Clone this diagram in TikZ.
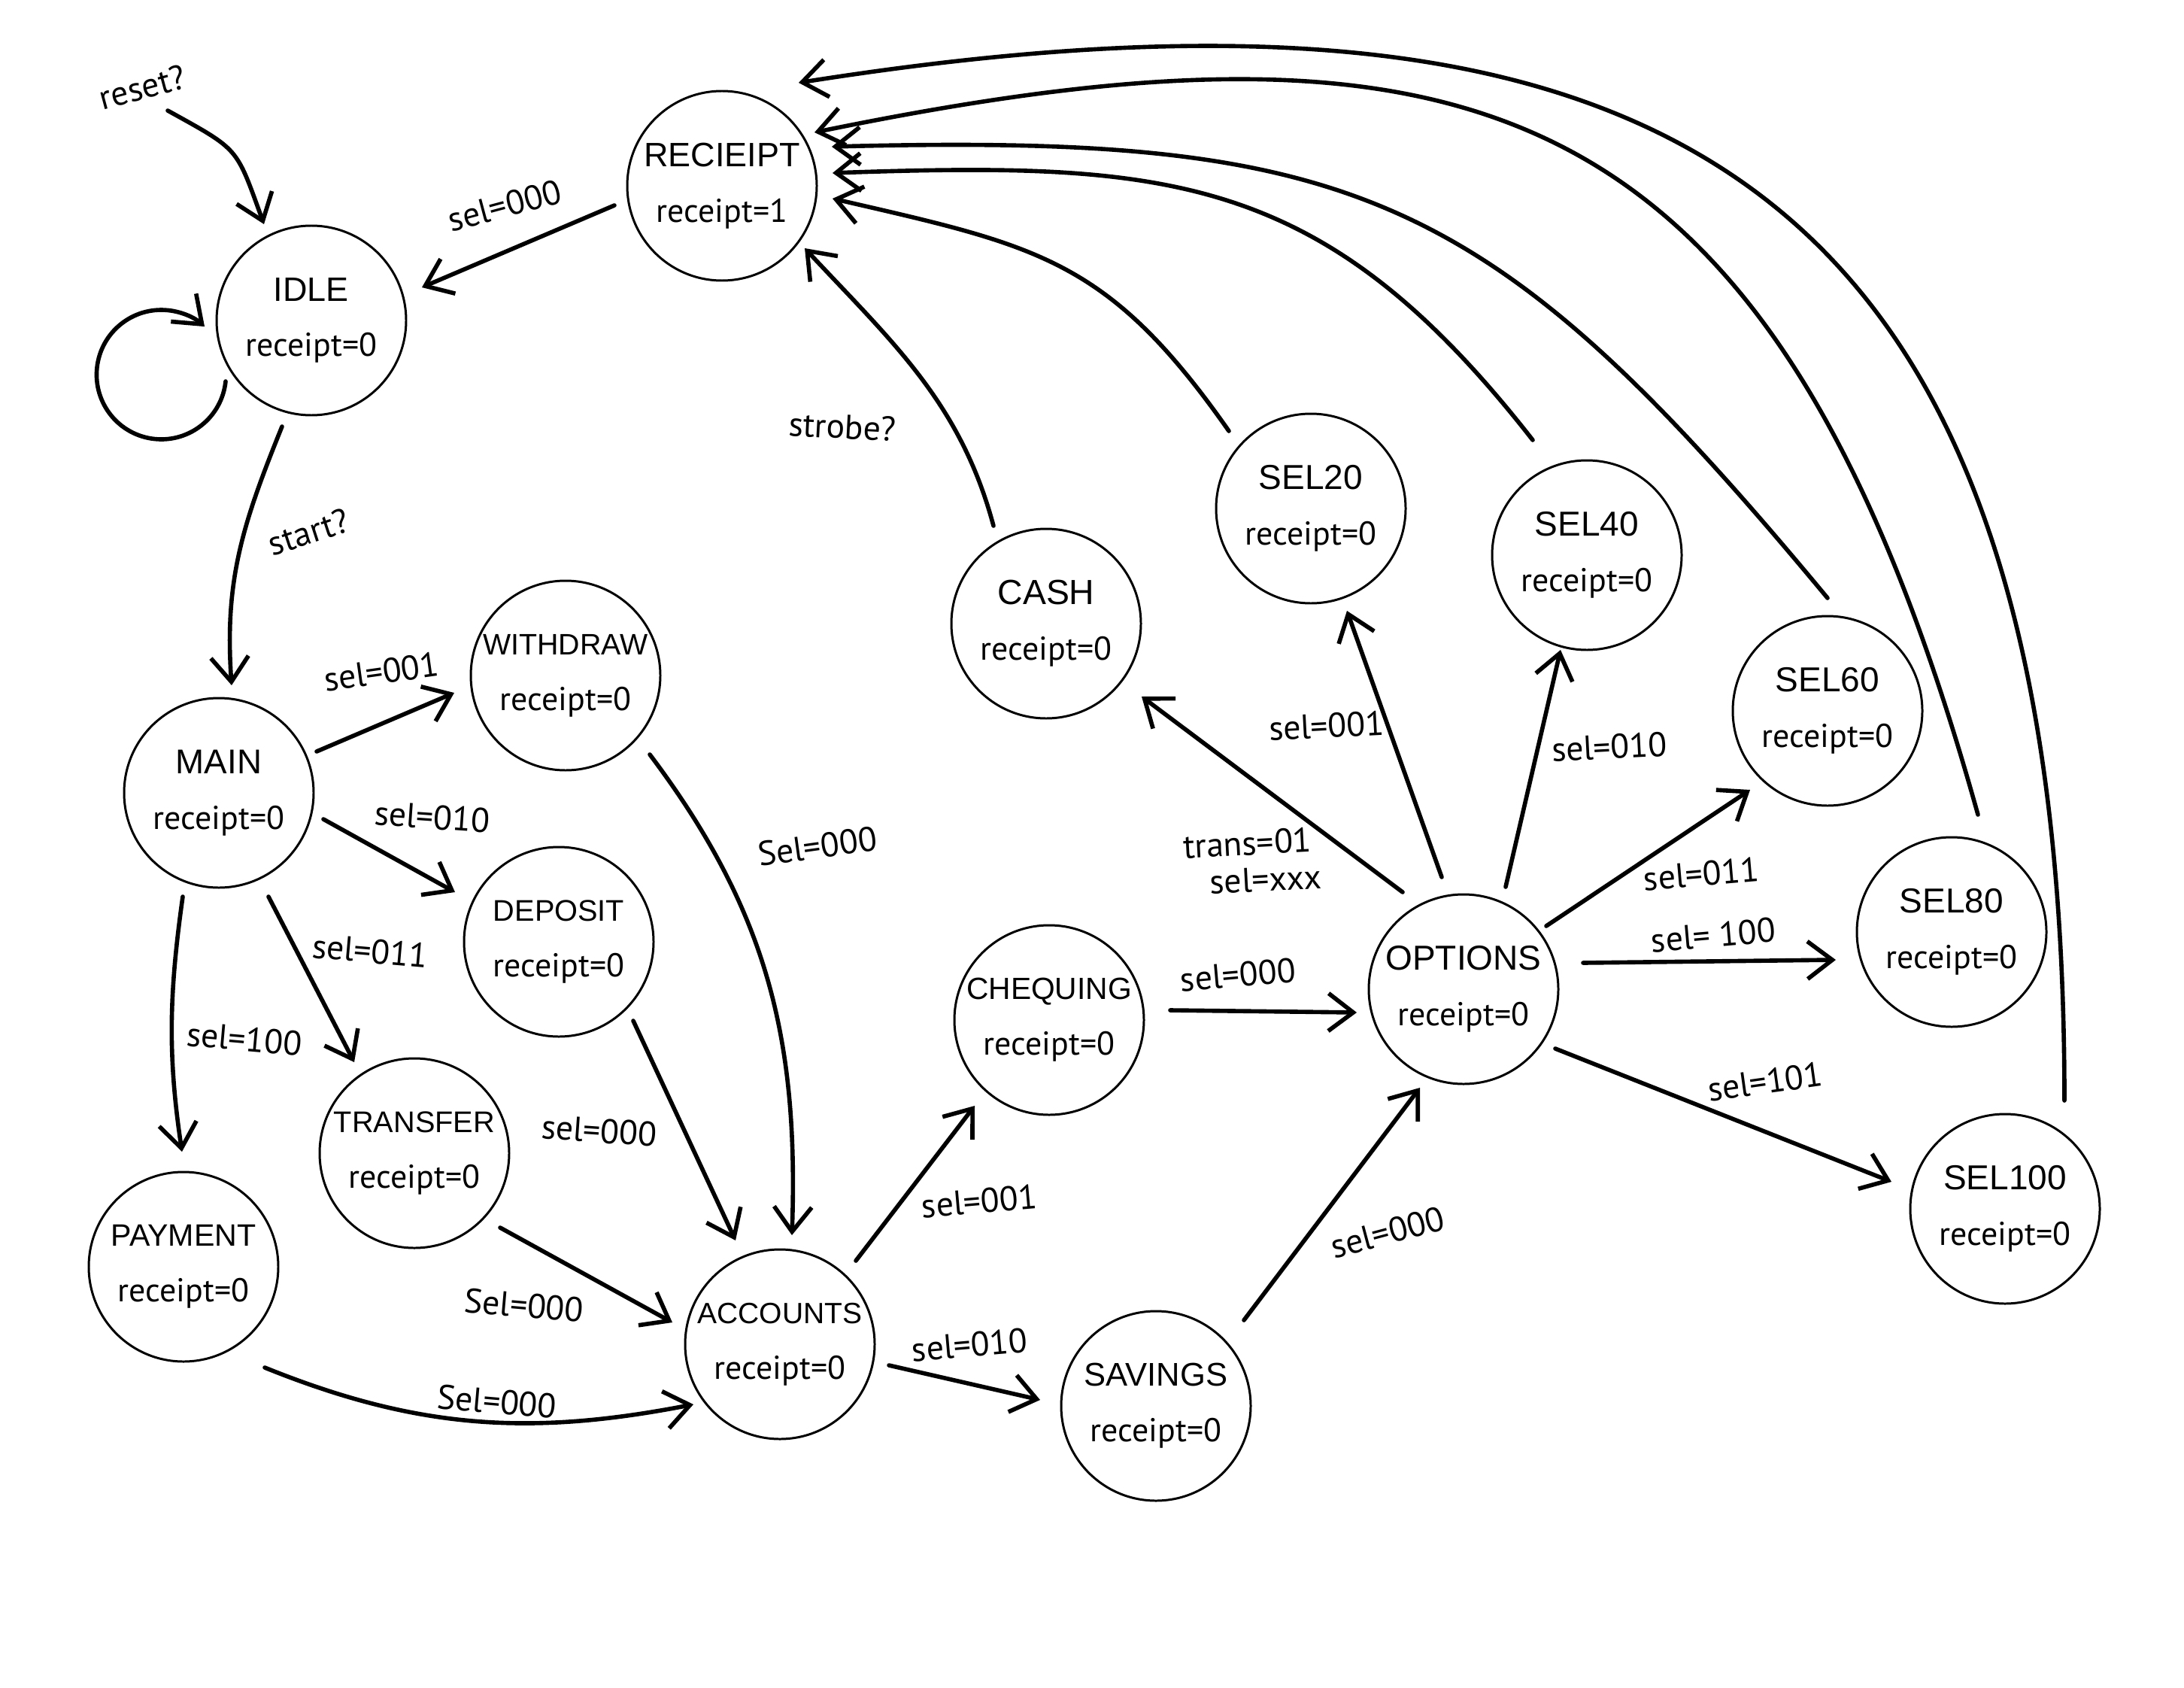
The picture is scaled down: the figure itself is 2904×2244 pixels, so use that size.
\documentclass[tikz,border=0pt]{standalone}
\usepackage{fontspec}
\setmainfont{Liberation Sans}
\newfontfamily\hand{PT Sans}
\usetikzlibrary{arrows.meta,calc}
\newcommand\rcpt[1]{{\hand\fontsize{12.5}{21}\selectfont #1}}
\begin{document}
\begin{tikzpicture}[x=0.1mm,y=0.1mm,
  state/.style={circle,draw,line width=0.85pt,minimum size=25.2mm,inner sep=0pt,align=center,font=\fontsize{#1}{21}\selectfont},
  state/.default=13,
  arr/.style={line width=1.6pt,line cap=round,-{Straight Barb[length=3.3mm,width=5mm]}},
  lab/.style={font=\hand\fontsize{13}{14}\selectfont,inner sep=1pt}
]
\useasboundingbox[fill=white] (0,0) rectangle (2904,-2244);

% states
\node[state=12.8] (rec) at (960,-247) {RECIEIPT\\\rcpt{receipt=1}};
\node[state=12.8] (idle) at (414,-426) {IDLE\\\rcpt{receipt=0}};
\node[state=13] (main) at (291,-1054) {MAIN\\\rcpt{receipt=0}};
\node[state=11.2] (wd) at (752,-898) {WITHDRAW\\\rcpt{receipt=0}};
\node[state=11.3] (dep) at (743,-1252) {DEPOSIT\\\rcpt{receipt=0}};
\node[state=11.3] (tr) at (551,-1533) {TRANSFER\\\rcpt{receipt=0}};
\node[state=11.7] (pay) at (244,-1684) {PAYMENT\\\rcpt{receipt=0}};
\node[state=11.1] (acc) at (1037,-1787) {ACCOUNTS\\\rcpt{receipt=0}};
\node[state=11.6] (chq) at (1395,-1356) {CHEQUING\\\rcpt{receipt=0}};
\node[state=12.4] (sav) at (1537,-1869) {SAVINGS\\\rcpt{receipt=0}};
\node[state=13.2] (cash) at (1391,-829) {CASH\\\rcpt{receipt=0}};
\node[state=13.1] (s20) at (1743,-676) {SEL20\\\rcpt{receipt=0}};
\node[state=13.1] (s40) at (2110,-738) {SEL40\\\rcpt{receipt=0}};
\node[state=13.1] (s60) at (2430,-945) {SEL60\\\rcpt{receipt=0}};
\node[state=13.1] (s80) at (2595,-1239) {SEL80\\\rcpt{receipt=0}};
\node[state=13.1] (s100) at (2666,-1607) {SEL100\\\rcpt{receipt=0}};
\node[state=13.1] (opt) at (1946,-1315) {OPTIONS\\\rcpt{receipt=0}};

% reset and self loop
\coordinate (rs) at (223,-147);
\draw[arr] (rs) .. controls +(-29:110) and +(110:110) .. ($(idle)+(-63,128)$);
\draw[arr] ($(idle)+(-114,-81)$) arc[start angle=-6,end angle=-312,radius=86];

% to IDLE / MAIN
\draw[arr] ($(rec)+(-143,-26)$) -- ($(idle)+(147,44)$);
\draw[arr] ($(idle)+(-39,-141)$) .. controls +(248:140) and +(94:140) .. ($(main)+(17,143)$);

% from MAIN
\draw[arr] ($(main)+(130,55)$) -- ($(wd)+(-148,-23)$);
\draw[arr] ($(main)+(139,-35)$) -- ($(dep)+(-138,66)$);
\draw[arr] ($(main)+(66,-138)$) -- ($(tr)+(-80,121)$);
\draw[arr] ($(main)+(-48,-138)$) .. controls +(262:130) and +(98.5:130) .. ($(pay)+(-2,153)$);

% to ACCOUNTS
\draw[arr] ($(wd)+(112,-105)$) .. controls +(-53:260) and +(88:260) .. ($(acc)+(16,145)$);
\draw[arr] ($(dep)+(99,-105)$) -- ($(acc)+(-59,138)$);
\draw[arr] ($(tr)+(114,-99)$) -- ($(acc)+(-143,29)$);
\draw[arr] ($(pay)+(108,-134)$) .. controls +(-22:220) and +(191:220) .. ($(acc)+(-115,-80)$);

% from ACCOUNTS
\draw[arr] ($(acc)+(101,111)$) -- ($(chq)+(-99,-114)$);
\draw[arr] ($(acc)+(145,-28)$) -- ($(sav)+(-154,8)$);
\draw[arr] ($(chq)+(161,13)$) -- ($(opt)+(-142,-31)$);
\draw[arr] ($(sav)+(117,114)$) -- ($(opt)+(-58,-131)$);

% from OPTIONS
\draw[arr] ($(opt)+(-81,129)$) -- ($(cash)+(127,-97)$);
\draw[arr] ($(opt)+(-29,149)$) -- ($(s20)+(48,-136)$);
\draw[arr] ($(opt)+(56,136)$) -- ($(s40)+(-35,-126)$);
\draw[arr] ($(opt)+(110,84)$) -- ($(s60)+(-103,-105)$);
\draw[arr] ($(opt)+(159,35)$) -- ($(s80)+(-154,-37)$);
\draw[arr] ($(opt)+(122,-79)$) -- ($(s100)+(-151,36)$);

% back to RECIEIPT
\draw[arr] ($(cash)+(-70,130)$) .. controls +(105:170) and +(-47:170) .. ($(rec)+(110,-83)$);
\draw[arr] ($(s20)+(-109,103)$) .. controls +(125:280) and +(-13:280) .. ($(rec)+(147,-17)$);
\draw[arr] ($(s40)+(-72,153)$) .. controls +(128:450) and +(2:450) .. ($(rec)+(147,17)$);
\draw[arr] ($(s60)+(0,150)$) .. controls +(129.7:700) and +(1.5:700) .. ($(rec)+(146,52)$);
\draw[arr] ($(s80)+(35,156)$) .. controls +(105.6:1000) and +(11.6:900) .. ($(rec)+(123,71)$);
\draw[arr] ($(s100)+(79,144)$) .. controls +(90:1200) and +(9:1200) .. ($(rec)+(102,137)$);

% labels
\node[lab,rotate=15] (lreset) at (189,-116) {reset?};
\node[lab,rotate=15] (l1) at (671,-273) {sel=000};
\node[lab,rotate=18] (lstart) at (410,-707) {start?};
\node[lab,rotate=-3] (lstrobe) at (1120,-567) {strobe?};
\node[lab,rotate=8] (l2) at (507,-893) {sel=001};
\node[lab,rotate=-4] (l3) at (575,-1086) {sel=010};
\node[lab,rotate=-5] (l4) at (492,-1264) {sel=011};
\node[lab,rotate=-5] (l5) at (325,-1381) {sel=100};
\node[lab,rotate=8] (l6) at (1087,-1125) {Sel=000};
\node[lab,rotate=-4] (l7) at (797,-1503) {sel=000};
\node[lab,rotate=-5] (l8) at (697,-1735) {Sel=000};
\node[lab,rotate=-5] (l9) at (661,-1863) {Sel=000};
\node[lab,rotate=5] (l10) at (1302,-1597) {sel=001};
\node[lab,rotate=5] (l11) at (1289,-1788) {sel=010};
\node[lab,rotate=5] (l12) at (1646,-1296) {sel=000};
\node[lab,rotate=15] (l13) at (1845,-1638) {sel=000};
\node[lab,align=left,rotate=3] (l14) at (1665,-1145) {trans=01\\\hspace*{3.3mm}sel=xxx};
\node[lab,rotate=3] (l15) at (1764,-965) {sel=001};
\node[lab,rotate=3] (l16) at (2140,-993) {sel=010};
\node[lab,rotate=5] (l17) at (2262,-1162) {sel=011};
\node[lab,rotate=5] (l18) at (2278,-1243) {sel= 100};
\node[lab,rotate=8] (l19) at (2347,-1438) {sel=101};
\end{tikzpicture}
\end{document}
